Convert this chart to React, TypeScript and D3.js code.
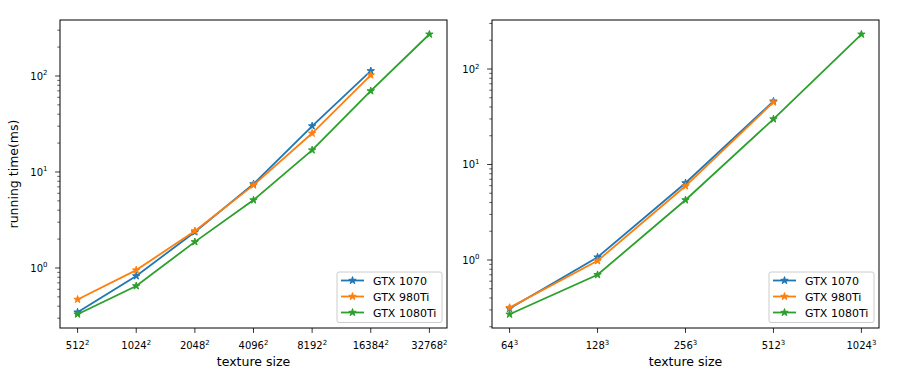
import React from "react";
import * as d3 from "d3";

const seriesNames = ["GTX 1070", "GTX 980Ti", "GTX 1080Ti"];
const colors = ["#1f77b4", "#ff7f0e", "#2ca02c"];

// Left panel: 2D textures
const leftBases = ["512", "1024", "2048", "4096", "8192", "16384", "32768"];
const left1070 = [0.346, 0.825, 2.37, 7.5, 30.1, 113];
const left980 = [0.47, 0.95, 2.43, 7.3, 25.3, 102];
const left1080 = [0.33, 0.65, 1.87, 5.1, 16.9, 69.8, 272];

// Right panel: 3D textures
const rightBases = ["64", "128", "256", "512", "1024"];
const right1070 = [0.31, 1.07, 6.4, 46];
const right980 = [0.317, 0.98, 5.95, 45];
const right1080 = [0.27, 0.7, 4.25, 29.9, 231];

const FONT = "DejaVu Sans, sans-serif";

type PanelProps = {
  x0: number;
  x1: number;
  y0: number;
  y1: number;
  bases: string[];
  exp: string;
  series: number[][];
  yDomain: [number, number];
  ylabel?: string;
};

function Panel({ x0, x1, y0, y1, bases, exp, series, yDomain, ylabel }: PanelProps) {
  const n = bases.length;
  const pad = (n - 1) * 0.05;
  const x = d3.scaleLinear().domain([-pad, n - 1 + pad]).range([x0, x1]);
  const y = d3.scaleLog().domain(yDomain).range([y1, y0]);
  const line = d3
    .line<number>()
    .x((_, i) => x(i))
    .y((d) => y(d));
  const star = d3.symbol().type(d3.symbolStar).size(17)();

  const majors: number[] = [];
  const minors: number[] = [];
  for (let e = -2; e <= 3; e++) {
    for (let m = 1; m < 10; m++) {
      const v = m * Math.pow(10, e);
      if (v < yDomain[0] || v > yDomain[1]) continue;
      if (m === 1) majors.push(e);
      else minors.push(v);
    }
  }

  const legX1 = x1 - 5;
  const legX0 = legX1 - 105;
  const legY1 = y1 - 5.5;
  const legY0 = legY1 - 50.5;

  return (
    <g fontFamily={FONT} fill="#000">
      {series.map((s, si) => (
        <g key={si}>
          <path d={line(s) || ""} fill="none" stroke={colors[si]} strokeWidth={1.8} />
          {s.map((v, i) => (
            <path
              key={i}
              d={star || ""}
              transform={`translate(${x(i)},${y(v)})`}
              fill={colors[si]}
              stroke={colors[si]}
              strokeWidth={1}
              strokeLinejoin="miter"
            />
          ))}
        </g>
      ))}
      <rect x={x0} y={y0} width={x1 - x0} height={y1 - y0} fill="none" stroke="#000" strokeWidth={1} />
      {bases.map((b, i) => (
        <g key={b}>
          <line x1={x(i)} x2={x(i)} y1={y1} y2={y1 + 4.9} stroke="#000" strokeWidth={0.8} />
          <text x={x(i)} y={y1 + 21} textAnchor="middle" fontSize={10}>
            {b}
            <tspan fontSize={7} dy={-4.5}>
              {exp}
            </tspan>
          </text>
        </g>
      ))}
      {majors.map((e) => (
        <g key={e}>
          <line x1={x0} x2={x0 - 4.9} y1={y(Math.pow(10, e))} y2={y(Math.pow(10, e))} stroke="#000" strokeWidth={0.8} />
          <text x={x0 - 12.5} y={y(Math.pow(10, e)) + 4} textAnchor="end" fontSize={10}>
            10
            <tspan fontSize={7} dy={-4.5}>
              {e}
            </tspan>
          </text>
        </g>
      ))}
      {minors.map((v, i) => (
        <line key={i} x1={x0} x2={x0 - 2.8} y1={y(v)} y2={y(v)} stroke="#000" strokeWidth={0.6} />
      ))}
      <text x={(x0 + x1) / 2} y={y1 + 38} textAnchor="middle" fontSize={12.5}>
        texture size
      </text>
      {ylabel && (
        <text
          transform={`translate(${x0 - 42},${(y0 + y1) / 2}) rotate(-90)`}
          textAnchor="middle"
          fontSize={12.5}
        >
          {ylabel}
        </text>
      )}
      <rect x={legX0} y={legY0} width={legX1 - legX0} height={legY1 - legY0} rx={2} fill="#fff" fillOpacity={0.8} stroke="#ccc" strokeWidth={1} />
      {seriesNames.map((nm, i) => {
        const ly = legY0 + 8.5 + i * 16;
        return (
          <g key={nm}>
            <line x1={legX0 + 4} x2={legX0 + 27} y1={ly} y2={ly} stroke={colors[i]} strokeWidth={1.8} />
            <path d={star || ""} transform={`translate(${legX0 + 15.5},${ly})`} fill={colors[i]} stroke={colors[i]} strokeWidth={1} />
            <text x={legX0 + 36} y={ly + 4} fontSize={11}>
              {nm}
            </text>
          </g>
        );
      })}
    </g>
  );
}

export default function App() {
  return (
    <svg width={900} height={385} style={{ position: "absolute", left: 0, top: 0, background: "#fff" }}>
      <rect width={900} height={385} fill="#fff" />
      <Panel
        x0={60}
        x1={447}
        y0={20}
        y1={328}
        bases={leftBases}
        exp="2"
        series={[left1070, left980, left1080]}
        yDomain={[0.237, 383]}
        ylabel="running time(ms)"
      />
      <Panel
        x0={492}
        x1={879}
        y0={20}
        y1={328}
        bases={rightBases}
        exp="3"
        series={[right1070, right980, right1080]}
        yDomain={[0.194, 326]}
      />
    </svg>
  );
}
